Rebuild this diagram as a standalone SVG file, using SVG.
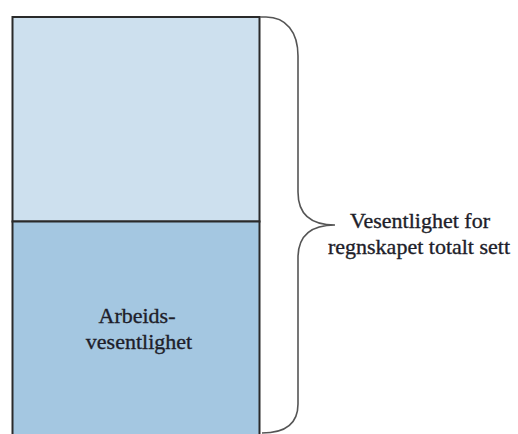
<svg xmlns="http://www.w3.org/2000/svg" width="518" height="434" viewBox="0 0 518 434">
<style>
.box{stroke:#2a2a2a;stroke-width:2}
.txt{font-family:"Liberation Serif","Times New Roman",serif;font-size:22px;fill:#1e1e2a;stroke:#1e1e2a;stroke-width:0.35;text-anchor:middle}
.brace{fill:none;stroke:#555;stroke-width:1.6}
</style>
<rect width="518" height="434" fill="#fff"/>
<g id="top-box">
<rect class="box" x="12.5" y="17" width="247" height="204.5" fill="#CDE0EE"/>
</g>
<g id="bottom-box">
<rect class="box" x="12.5" y="221.5" width="247" height="220" fill="#A4C7E1"/>
<text class="txt" x="137" y="323">Arbeids-</text>
<text class="txt" x="139" y="349">vesentlighet</text>
</g>
<g id="connectors">
<path class="brace" d="M260,17 H266 C286,17 298,32 298,56 V192 C298,212 308,225 335,225 C308,225 298,238 298,258 V404 C298,424 286,433 262,433"/>
</g>
<g id="label">
<text class="txt" x="420" y="228">Vesentlighet for</text>
<text class="txt" x="419" y="254">regnskapet totalt sett</text>
</g>
</svg>
